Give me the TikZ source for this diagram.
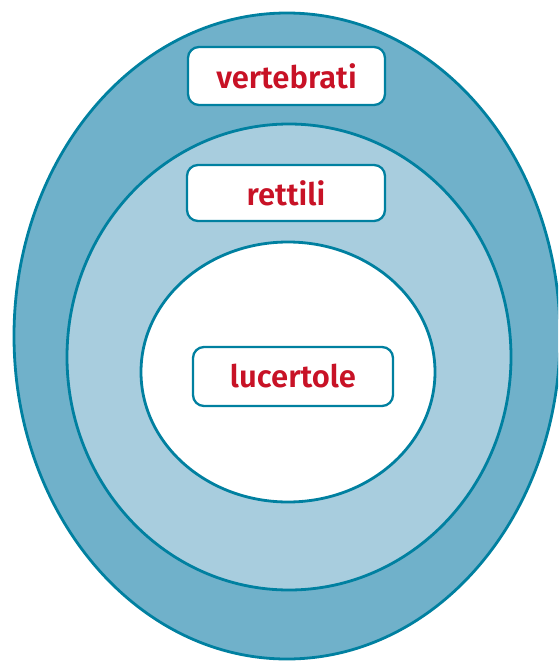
\documentclass[tikz,border=0pt]{standalone}
\usepackage{fontspec}
\usetikzlibrary{shapes.geometric}
\setmainfont{Fira Sans SemiBold}
\definecolor{outerfill}{RGB}{112,177,202}
\definecolor{midfill}{RGB}{168,205,222}
\definecolor{edge}{RGB}{0,128,160}
\definecolor{lblred}{RGB}{200,18,38}
\tikzset{
  ring/.style={draw=edge, line width=2.8pt, ellipse, inner sep=0pt},
  lbl/.style={draw=edge, line width=2.3pt, fill=white, rounded corners=11pt,
    text=lblred, font=\fontsize{31}{36}\selectfont, inner sep=0pt, anchor=center},
}
\begin{document}
\begin{tikzpicture}[x=1pt,y=-1pt]
\useasboundingbox (0,0) rectangle (558,662);
\clip (0,0) rectangle (558,662);
\fill[white] (0,0) rectangle (558,662);
\node[ring, fill=outerfill, minimum width=546pt, minimum height=646pt] (outer) at (287,336) {};
\node[ring, fill=midfill, minimum width=444pt, minimum height=466pt] (mid) at (289,357) {};
\node[ring, fill=white, minimum width=294pt, minimum height=260pt] (inner) at (288,372) {};
\node[lbl, minimum width=197pt, minimum height=58pt] (vert) at (286.5,76) {vertebrati};
\node[lbl, minimum width=198pt, minimum height=56pt] (rett) at (286,193) {rettili};
\node[lbl, minimum width=200pt, minimum height=59pt] (luce) at (293,376.5) {lucertole};
\end{tikzpicture}
\end{document}
